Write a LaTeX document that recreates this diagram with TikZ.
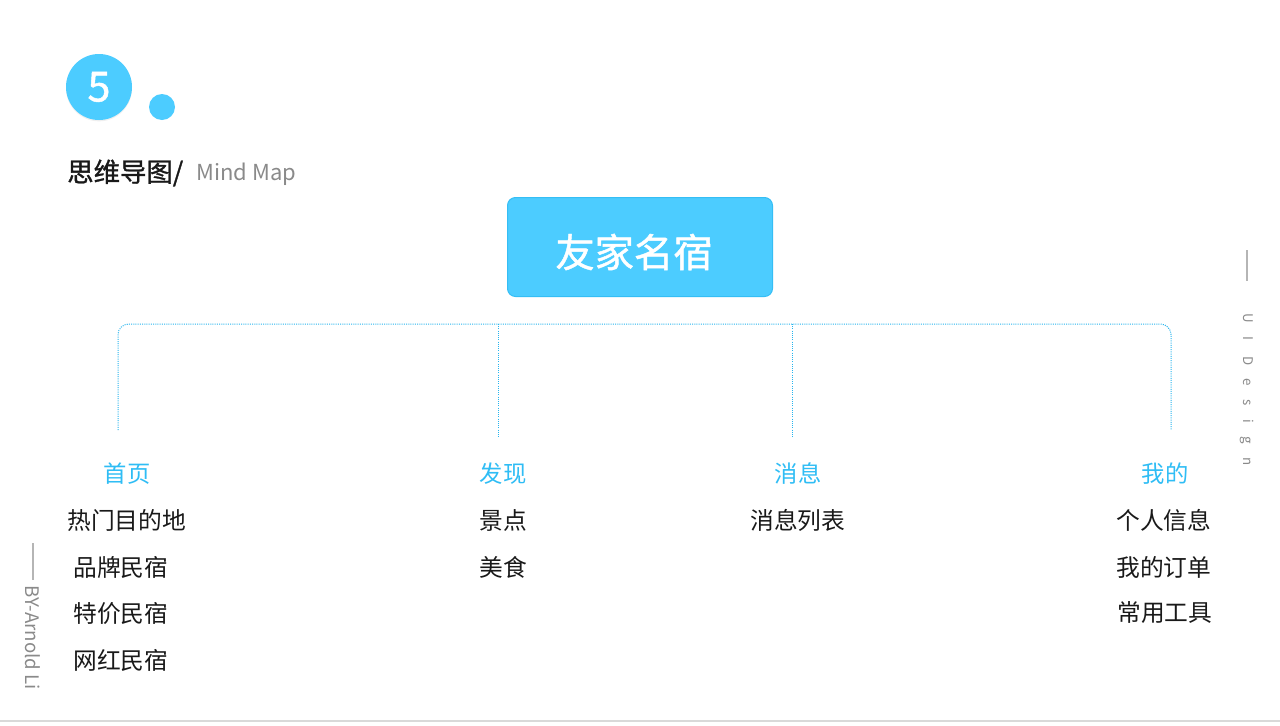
\documentclass[tikz,border=0pt]{standalone}
\usepackage{fontspec}
\setmainfont{Noto Sans CJK SC}
\newfontfamily\cjk{Noto Sans CJK SC}
\newfontfamily\cjkmid[FakeBold=1.2]{Noto Sans CJK SC}
\usetikzlibrary{shadows}
\definecolor{mainblue}{HTML}{4CCCFF}
\definecolor{edgeblue}{HTML}{35BEF5}
\definecolor{lblblue}{HTML}{2FBDF5}
\definecolor{dotblue}{HTML}{25B4EE}
\definecolor{txtgray}{HTML}{8A8A8A}
\definecolor{linegray}{HTML}{B5B5B5}
\tikzset{
  dotline/.style={draw=dotblue, line width=0.75pt, dash pattern=on 0.75pt off 0.9pt},
  branchlbl/.style={text=lblblue, font=\cjk\fontsize{17.5}{20}\selectfont, inner sep=0pt},
  itemtxt/.style={text=black!90, font=\cjk\fontsize{17.8}{20}\selectfont, inner sep=0pt, anchor=west},
  sidetxt/.style={text=txtgray, inner sep=0pt},
}
\begin{document}
\begin{tikzpicture}[x=0.75pt,y=-0.75pt]
\useasboundingbox[fill=white] (0,0) rectangle (1280,725);
% header
\node[circle, fill=mainblue, minimum size=66*0.75pt, inner sep=0pt,
      drop shadow={shadow xshift=0pt, shadow yshift=-1pt, opacity=0.12}] (num) at (99,87) {};
\node[text=white, font=\cjkmid\fontsize{31}{32}\selectfont, inner sep=0pt] (numtxt) at (99,87) {5};
\node[circle, fill=mainblue, minimum size=26*0.75pt, inner sep=0pt] (dot) at (162,107) {};
\node[anchor=west, inner sep=0pt, font=\cjkmid\fontsize{19.8}{22}\selectfont, text=black!90] (title) at (67,173) {思维导图/};
\node[anchor=west, inner sep=0pt, text=txtgray, font=\cjk\fontsize{16.5}{18}\selectfont] (sub) at (196,174) {Mind Map};
% main box
\node[draw=edgeblue, line width=0.75pt, fill=mainblue, rounded corners=6pt,
      minimum width=265*0.75pt, minimum height=99*0.75pt, inner sep=0pt] (root) at (640,247) {};
\node[text=white, font=\cjkmid\fontsize{29.5}{32}\selectfont, inner sep=0pt] (roottxt) at (634,252) {友家名宿};
% connectors
\coordinate (e1) at (118,430);
\coordinate (e2) at (498,438);
\coordinate (e3) at (792,438);
\coordinate (e4) at (1171,430);
\coordinate (bar) at (640,324);
\coordinate (j2) at (498,324);
\coordinate (j3) at (792,324);
\draw[dotline, rounded corners=8pt] (e1) |- (bar) -| (e4);
\draw[dotline] (j2) -- (e2);
\draw[dotline] (j3) -- (e3);
% branch labels
\node[branchlbl] (b1) at (127,474) {首页};
\node[branchlbl] (b2) at (503,474) {发现};
\node[branchlbl] (b3) at (798,474) {消息};
\node[branchlbl] (b4) at (1165,474) {我的};
% items
\node[itemtxt] (i11) at (67,520) {热门目的地};
\node[itemtxt] (i12) at (73,567) {品牌民宿};
\node[itemtxt] (i13) at (73,613) {特价民宿};
\node[itemtxt] (i14) at (73,660) {网红民宿};
\node[itemtxt] (i21) at (479,520) {景点};
\node[itemtxt] (i22) at (479,567) {美食};
\node[itemtxt] (i31) at (750,520) {消息列表};
\node[itemtxt] (i41) at (1116,520) {个人信息};
\node[itemtxt] (i42) at (1116,567) {我的订单};
\node[itemtxt] (i43) at (1117,613) {常用工具};
% side marks
\coordinate (rl1) at (1247,250);
\coordinate (rl2) at (1247,281);
\draw[linegray, line width=0.9pt] (rl1) -- (rl2);
\node[sidetxt, rotate=-90, anchor=west, font=\cjk\fontsize{10}{10}\selectfont\addfontfeatures{LetterSpace=100}] (ui) at (1247,313) {UI Design};
\coordinate (ll1) at (33,543);
\coordinate (ll2) at (33,580);
\draw[linegray, line width=0.9pt] (ll1) -- (ll2);
\node[sidetxt, rotate=-90, anchor=west, font=\cjk\fontsize{14}{15}\selectfont] (by) at (33,585) {BY-Arnold Li};
% bottom line
\coordinate (bl1) at (0,721);
\coordinate (bl2) at (1280,721);
\draw[black!15, line width=1.5pt] (bl1) -- (bl2);
\end{tikzpicture}
\end{document}
